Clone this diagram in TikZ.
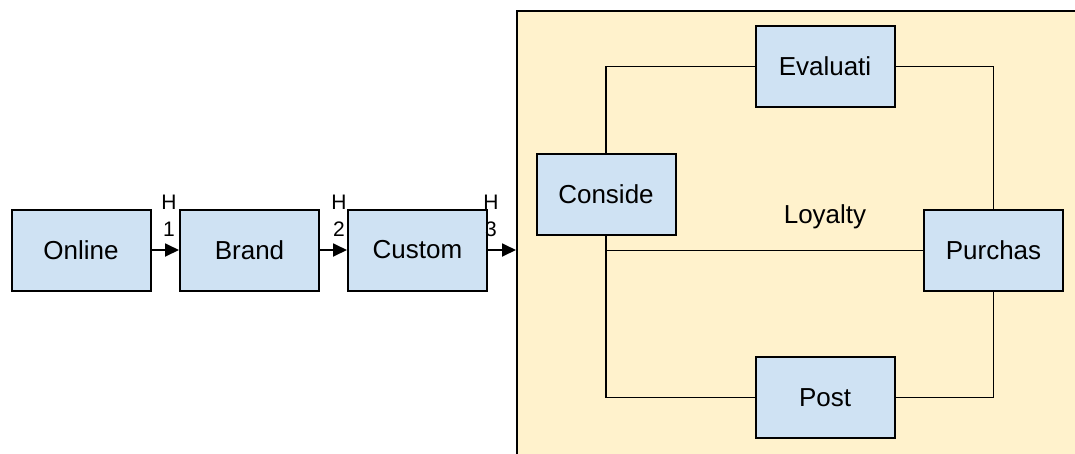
\documentclass[tikz,border=0pt]{standalone}
\usepackage{fontspec}
\setmainfont{Liberation Sans}
\usetikzlibrary{arrows.meta}
\definecolor{boxblue}{HTML}{CFE2F3}
\definecolor{stagefill}{HTML}{FFF2CC}
\begin{document}
\begin{tikzpicture}[x=1pt,y=-1pt,
  stagebox/.style={draw=black,line width=2pt,fill=boxblue,minimum width=139pt,minimum height=81pt,inner sep=0pt,font=\fontsize{26}{30}\selectfont},
  conn/.style={draw=black,line width=1.5pt},
  flowarrow/.style={draw=black,line width=1.8pt,-{Triangle[length=14pt,width=13pt]}},
  hlabel/.style={inner sep=0pt,align=center,font=\fontsize{21}{27}\selectfont}]
\useasboundingbox (0,0) rectangle (1075,453);
% container
\node[draw=black,line width=2pt,fill=stagefill,anchor=north west,minimum width=620pt,minimum height=520pt,inner sep=0pt] (stage) at (516,10) {};
% left chain
\node[stagebox] (online) at (81,250) {Online};
\node[stagebox] (brand) at (249.5,250) {Brand};
\node[stagebox] (custom) at (417.5,250) {Custom};
\draw[flowarrow] (online) -- (brand);
\draw[flowarrow] (brand) -- (custom);
\draw[flowarrow] (custom.east) -- (custom.east -| stage.west);
\node[hlabel] (h1) at (169,216) {H\\1};
\node[hlabel] (h2) at (339,216) {H\\2};
\node[hlabel] (h3) at (491,216) {H\\3};
% cycle
\node[stagebox] (conside) at (606,194) {Conside};
\node[stagebox] (evaluati) at (825,66.5) {Evaluati};
\node[stagebox] (purchas) at (993.5,250.5) {Purchas};
\node[stagebox] (post) at (825,397.5) {Post};
\node[inner sep=0pt,font=\fontsize{26}{30}\selectfont] (loyalty) at (825,217) {Loyalty};
\draw[conn] (conside.north) |- (evaluati.west);
\draw[conn] (evaluati.east) -| (purchas.north);
\draw[conn] (conside.south) |- (post.west);
\draw[conn] (post.east) -| (purchas.south);
\draw[conn] (conside.south |- purchas.west) -- (purchas.west);
\end{tikzpicture}
\end{document}
